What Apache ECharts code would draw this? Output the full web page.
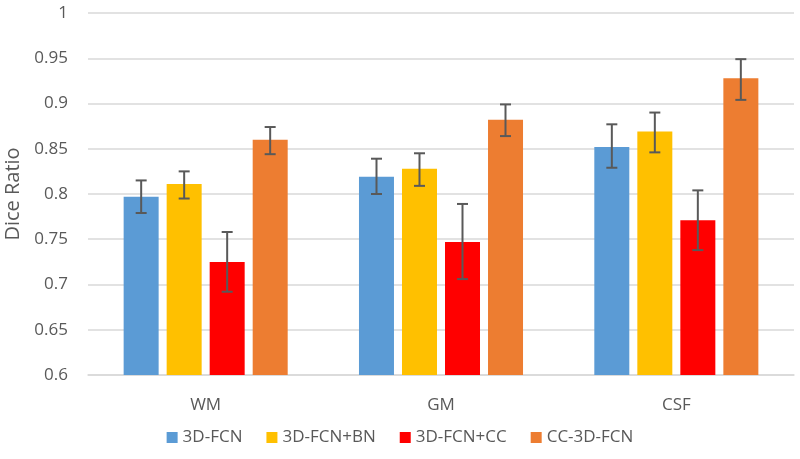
<!DOCTYPE html>
<html>
<head>
<meta charset="utf-8">
<script src="https://cdn.jsdelivr.net/npm/echarts@6/dist/echarts.min.js"></script>
<style>html,body{margin:0;padding:0;background:#fff}#c{width:800px;height:459px}</style>
</head>
<body>
<div id="c"></div>
<script>
var categories = ['WM', 'GM', 'CSF'];
var seriesNames = ['3D-FCN', '3D-FCN+BN', '3D-FCN+CC', 'CC-3D-FCN'];
var colors = ['#5b9bd5', '#ffc000', '#ff0000', '#ed7d31'];
var fcn = [0.797, 0.819, 0.852];
var fcnBn = [0.811, 0.828, 0.869];
var fcnCc = [0.725, 0.747, 0.771];
var ccFcn = [0.860, 0.882, 0.928];
var fcnLow = [0.779, 0.800, 0.829];
var fcnHigh = [0.815, 0.839, 0.877];
var fcnBnLow = [0.795, 0.809, 0.846];
var fcnBnHigh = [0.825, 0.845, 0.890];
var fcnCcLow = [0.692, 0.706, 0.738];
var fcnCcHigh = [0.758, 0.789, 0.804];
var ccFcnLow = [0.844, 0.864, 0.904];
var ccFcnHigh = [0.874, 0.899, 0.949];
var yTicks = [0.6, 0.65, 0.7, 0.75, 0.8, 0.85, 0.9, 0.95, 1];

var values = [fcn, fcnBn, fcnCc, ccFcn];
var lows = [fcnLow, fcnBnLow, fcnCcLow, ccFcnLow];
var highs = [fcnHigh, fcnBnHigh, fcnCcHigh, ccFcnHigh];
var BAR_W = 35, GAP = 8;
var FONT = '"Open Sans", "Noto Sans", sans-serif';
var TXT = '#595959';

var series = [];
seriesNames.forEach(function (name, i) {
  series.push({
    name: name, type: 'bar', data: values[i],
    barWidth: BAR_W, barGap: (GAP / BAR_W * 100).toFixed(1) + '%', barCategoryGap: '30%',
    itemStyle: { color: colors[i] }
  });
});
seriesNames.forEach(function (name, i) {
  var offset = (i - 1.5) * (BAR_W + GAP);
  series.push({
    type: 'custom', name: name + ' err', z: 10,
    data: categories.map(function (c, k) { return [k, lows[i][k], highs[i][k]]; }),
    encode: { x: 0, y: [1, 2] },
    renderItem: function (params, api) {
      var lo = api.coord([api.value(0), api.value(1)]);
      var hi = api.coord([api.value(0), api.value(2)]);
      var x = lo[0] + offset, hw = 5.5;
      var st = { stroke: '#595959', lineWidth: 2 };
      return { type: 'group', children: [
        { type: 'line', shape: { x1: x, y1: lo[1], x2: x, y2: hi[1] }, style: st },
        { type: 'line', shape: { x1: x - hw, y1: lo[1], x2: x + hw, y2: lo[1] }, style: st },
        { type: 'line', shape: { x1: x - hw, y1: hi[1], x2: x + hw, y2: hi[1] }, style: st }
      ] };
    },
    tooltip: { show: false }
  });
});

var chart = echarts.init(document.getElementById('c'));
chart.setOption({
  animation: false,
  textStyle: { fontFamily: FONT },
  grid: { left: 88, right: 6, top: 13, bottom: 84, containLabel: false, outerBoundsMode: 'none' },
  legend: {
    data: seriesNames, bottom: 8, left: 'center', itemWidth: 11, itemHeight: 11, itemGap: 24,
    icon: 'rect', textStyle: { fontFamily: FONT, fontSize: 17, color: TXT }
  },
  xAxis: {
    type: 'category', data: categories,
    axisLine: { lineStyle: { color: '#d9d9d9', width: 1.5 } },
    axisTick: { show: false },
    axisLabel: { fontFamily: FONT, fontSize: 17, color: TXT, margin: 22 }
  },
  yAxis: {
    type: 'value', min: yTicks[0], max: yTicks[yTicks.length - 1], interval: 0.05,
    name: 'Dice Ratio', nameLocation: 'middle', nameGap: 53, nameRotate: 90,
    nameTextStyle: { fontFamily: FONT, fontSize: 20, color: TXT },
    axisLine: { show: false }, axisTick: { show: false },
    splitLine: { lineStyle: { color: '#d9d9d9', width: 1.5 } },
    axisLabel: {
      fontFamily: FONT, fontSize: 17, color: TXT, margin: 20,
      formatter: function (v) { var t = yTicks.find(function (q) { return Math.abs(q - v) < 1e-6; }); return t === undefined ? '' : String(t); }
    }
  },
  series: series
});
</script>
</body>
</html>
